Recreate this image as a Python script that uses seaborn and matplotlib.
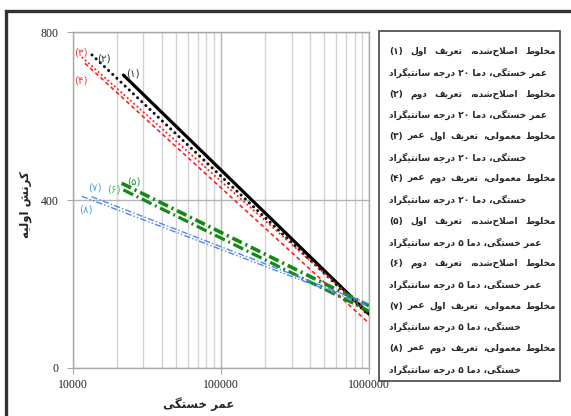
import numpy as np
import pandas as pd
import seaborn as sns
import matplotlib.pyplot as plt
from matplotlib.patches import Rectangle
from matplotlib.ticker import LogLocator, NullFormatter

W, H = 571, 416

# --- data ---
series = ['1', '2', '3', '4', '5', '6', '7', '8']
curve_tags = ['(۱)', '(۲)', '(۳)', '(۴)', '(۵)', '(۶)', '(۷)', '(۸)']
x_start = [22000, 13500, 11500, 12100, 21400, 22000, 13400, 11500]
y_start = [698, 746, 741, 726, 440, 424, 408, 409]
x_end = [1000000] * 8
y_end = [128, 125, 130, 106, 148, 135, 152, 147]
tag_x = [25500, 16300, 11400, 11400, 25900, 19000, 14200, 12300]
tag_y = [702, 738, 752, 684, 444, 425, 429, 378]

legend_labels = [
    '(۱) مخلوط اصلاح‌شده، تعریف اول\nعمر خستگی، دما ۲۰ درجه سانتیگراد',
    '(۲) مخلوط اصلاح‌شده، تعریف دوم\nعمر خستگی، دما ۲۰ درجه سانتیگراد',
    '(۳) مخلوط معمولی، تعریف اول عمر\nخستگی، دما ۲۰ درجه سانتیگراد',
    '(۴) مخلوط معمولی، تعریف دوم عمر\nخستگی، دما ۲۰ درجه سانتیگراد',
    '(۵) مخلوط اصلاح‌شده، تعریف اول\nعمر خستگی، دما ۵ درجه سانتیگراد',
    '(۶) مخلوط اصلاح‌شده، تعریف دوم\nعمر خستگی، دما ۵ درجه سانتیگراد',
    '(۷) مخلوط معمولی، تعریف اول عمر\nخستگی، دما ۵ درجه سانتیگراد',
    '(۸) مخلوط معمولی، تعریف دوم عمر\nخستگی، دما ۵ درجه سانتیگراد',
]
xlabel = 'عمر خستگی'
ylabel = 'کرنش اولیه'

line_colors = ['#000000', '#111111', '#ff2020', '#ff2020', '#138a13', '#138a13', '#4f86f0', '#4f86f0']
tag_colors = ['#333333', '#333333', '#ff3b3b', '#ff3b3b', '#2a9a4a', '#3cc46a', '#3aaee8', '#3aaee8']
line_widths = [2.3, 2.2, 1.3, 1.2, 2.6, 2.3, 1.0, 1.0]
line_styles = ['-', (0, (0.01, 1.85)), (0, (1, 1.4)), (0, (2.4, 1.8)), (0, (2.9, 1.1, 0.6, 1.1)),
               (0, (3.4, 1.2, 0.6, 1.2)), (0, (4.5, 1.6, 1, 1.6)), (0, (4.5, 1.6, 1, 1.6, 1, 1.6))]
line_caps = ['butt', 'round', 'butt', 'butt', 'butt', 'butt', 'butt', 'butt']

# --- minimal persian shaping (matplotlib has no complex text layout) ---
FORMS = {
    'ا': ('\uFE8D', '\uFE8E'), 'د': ('\uFEA9', '\uFEAA'), 'ر': ('\uFEAD', '\uFEAE'),
    'و': ('\uFEED', '\uFEEE'), 'لا': ('\uFEFB', '\uFEFC'),
    'ت': ('\uFE95', '\uFE96', '\uFE97', '\uFE98'), 'ج': ('\uFE9D', '\uFE9E', '\uFE9F', '\uFEA0'),
    'ح': ('\uFEA1', '\uFEA2', '\uFEA3', '\uFEA4'), 'خ': ('\uFEA5', '\uFEA6', '\uFEA7', '\uFEA8'),
    'س': ('\uFEB1', '\uFEB2', '\uFEB3', '\uFEB4'), 'ش': ('\uFEB5', '\uFEB6', '\uFEB7', '\uFEB8'),
    'ص': ('\uFEB9', '\uFEBA', '\uFEBB', '\uFEBC'), 'ط': ('\uFEC1', '\uFEC2', '\uFEC3', '\uFEC4'),
    'ع': ('\uFEC9', '\uFECA', '\uFECB', '\uFECC'), 'ف': ('\uFED1', '\uFED2', '\uFED3', '\uFED4'),
    'ل': ('\uFEDD', '\uFEDE', '\uFEDF', '\uFEE0'), 'م': ('\uFEE1', '\uFEE2', '\uFEE3', '\uFEE4'),
    'ن': ('\uFEE5', '\uFEE6', '\uFEE7', '\uFEE8'), 'ه': ('\uFEE9', '\uFEEA', '\uFEEB', '\uFEEC'),
    'ی': ('\uFBFC', '\uFBFD', '\uFBFE', '\uFBFF'), 'ک': ('\uFB8E', '\uFB8F', '\uFB90', '\uFB91'),
    'گ': ('\uFB92', '\uFB93', '\uFB94', '\uFB95'),
}


def shape_word(w):
    chars = []
    i = 0
    while i < len(w):
        if w[i] == 'ل' and i + 1 < len(w) and w[i + 1] == 'ا':
            chars.append('لا')
            i += 2
        else:
            chars.append(w[i])
            i += 1
    out = []
    for k, c in enumerate(chars):
        f = FORMS.get(c)
        if f is None:
            if c != '\u200c':
                out.append(c)
            continue
        prev = chars[k - 1] if k > 0 else None
        nxt = chars[k + 1] if k + 1 < len(chars) else None
        jp = prev in FORMS and len(FORMS[prev]) == 4
        jn = len(f) == 4 and nxt in FORMS
        if len(f) == 2:
            idx = 1 if jp else 0
        else:
            idx = 3 if (jp and jn) else 1 if jp else 2 if jn else 0
        out.append(f[idx])
    return ''.join(reversed(out))


def vis_token(tok):
    if not any(ch in FORMS for ch in tok):
        return tok
    if tok.endswith('،'):
        return '،' + shape_word(tok[:-1])
    return shape_word(tok)


def rtl(text):
    return ' '.join(vis_token(t) for t in reversed(text.split(' ')))


def legend_line_tokens(line):
    # number tag stays at the left, the persian run is laid out right-to-left
    toks = line.split(' ')
    lead = []
    if toks[0].startswith('('):
        lead = [toks[0]]
        toks = toks[1:]
    return lead + [vis_token(t) for t in reversed(toks)]


def fx(x):
    return x / W


def fy(y):
    return 1 - y / H


# --- figure ---
sns.set_style('white')
plt.rcParams['font.family'] = ['Liberation Serif', 'DejaVu Sans']
fig = plt.figure(figsize=(W / 100, H / 100), dpi=100)
ax = fig.add_axes([fx(72.7), fy(367.7), (369 - 72.7) / W, (367.7 - 32.3) / H])
ax.set_xscale('log')

for i, s in enumerate(series):
    d = pd.DataFrame({'x': [x_start[i], x_end[i]], 'y': [y_start[i], y_end[i]]})
    sns.lineplot(data=d, x='x', y='y', color=line_colors[i], lw=line_widths[i],
                 linestyle=line_styles[i], dash_capstyle=line_caps[i],
                 estimator=None, sort=False, ax=ax, zorder=3)

ax.set_xlim(10000, 1000000)
ax.set_ylim(0, 800)
ax.set_xticks([10000, 100000, 1000000])
ax.set_xticklabels(['10000', '100000', '1000000'])
ax.xaxis.set_minor_locator(LogLocator(base=10, subs=np.arange(2, 10)))
ax.xaxis.set_minor_formatter(NullFormatter())
ax.set_yticks([0, 400, 800])
ax.set_xlabel('')
ax.set_ylabel('')
ax.grid(True, which='major', color='#b4b4b4', lw=1.0)
ax.grid(True, which='minor', axis='x', color='#d2d2d2', lw=1.0)
for sp in ax.spines.values():
    sp.set_color('#a8a8a8')
    sp.set_linewidth(1.0)
ax.tick_params(axis='both', which='major', length=4, color='#a8a8a8', labelsize=8.5,
               direction='out', left=True, bottom=True, labelcolor='#222222')
ax.tick_params(axis='x', which='major', pad=4)
ax.tick_params(axis='y', which='major', pad=6)
ax.tick_params(axis='x', which='minor', length=0)

for i in range(len(series)):
    ax.text(tag_x[i], tag_y[i], curve_tags[i], color=tag_colors[i], fontsize=7.5,
            family='DejaVu Sans', ha='center', va='center', zorder=4)

fig.text(fx(199), fy(404), rtl(xlabel), family='DejaVu Sans', fontweight='bold',
         fontsize=8.5, ha='center', va='center')
fig.text(fx(25), fy(205), rtl(ylabel), family='DejaVu Sans', fontweight='bold',
         fontsize=8.5, ha='center', va='center', rotation=90)

# legend box
fig.add_artist(Rectangle((fx(379), fy(381)), (560 - 379) / W, (381 - 31) / H,
                         transform=fig.transFigure, facecolor='white',
                         edgecolor='#444444', lw=1.2, zorder=5))
renderer = fig.canvas.get_renderer()
x0, x1 = 389, 556
line_y = 51.7
step = 21.2
fs = 6.5
for lab in legend_labels:
    for j, ln in enumerate(lab.split('\n')):
        toks = legend_line_tokens(ln)
        if j == 0:
            ts = [fig.text(0, fy(line_y), t, family='DejaVu Sans', fontweight='bold',
                           fontsize=fs, ha='left', va='center', zorder=6) for t in toks]
            ws = [t.get_window_extent(renderer).width for t in ts]
            gap = (x1 - x0 - sum(ws)) / (len(ts) - 1)
            xc = x0
            for t, w in zip(ts, ws):
                t.set_x(fx(xc))
                xc += w + gap
        else:
            fig.text(fx(x0), fy(line_y), ' '.join(toks), family='DejaVu Sans',
                     fontweight='bold', fontsize=fs, ha='left', va='center', zorder=6)
        line_y += step

# outer frame
fig.add_artist(Rectangle((fx(6), fy(440)), (600 - 6) / W, (440 - 11) / H,
                         transform=fig.transFigure, fill=False,
                         edgecolor='#333333', lw=2.4, clip_on=False, zorder=7))

fig.savefig('out.png', dpi=100)
